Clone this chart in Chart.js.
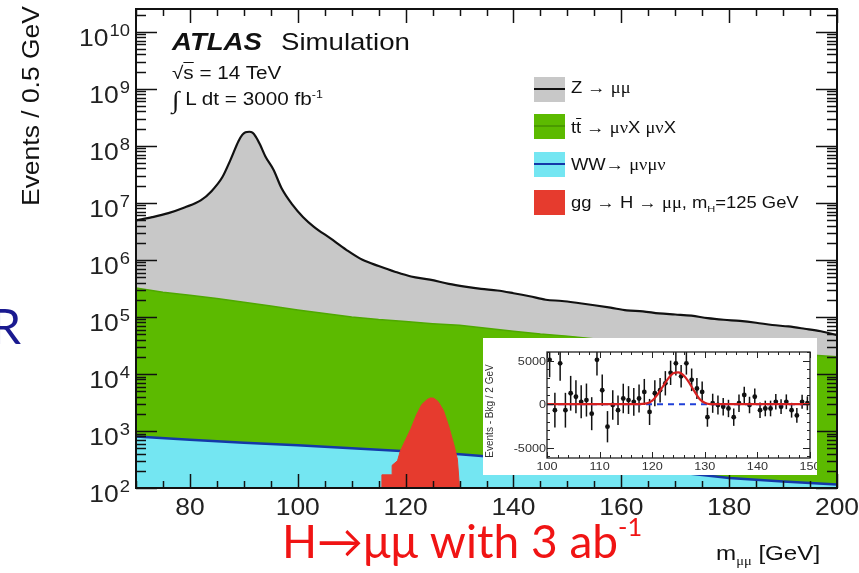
<!DOCTYPE html>
<html>
<head>
<meta charset="utf-8">
<script src="https://cdn.jsdelivr.net/npm/chart.js@4.4.1/dist/chart.umd.min.js"></script>
<style>
  body { margin: 0; background: #fff; width: 859px; height: 573px; overflow: hidden; position: relative;
         font-family: "Liberation Sans", Arial, sans-serif; color: #111; }
  #main { position: absolute; left: 0; top: 0; }
  #insetBox { position: absolute; left: 483px; top: 338px; width: 334px; height: 137px; background: #fff; }
  .t { position: absolute; white-space: nowrap; line-height: 1; transform-origin: 0 0; transform: scaleX(1.15); }
  .gr { font-family: "Liberation Serif", "DejaVu Serif", serif; }
  .sw { position: absolute; left: 534px; width: 31px; height: 25px; }
  .sw i { position: absolute; left: 0; right: 0; top: 11px; height: 2px; }
  sup, sub { font-size: 60%; line-height: 0; }
  .cap { position: absolute; white-space: nowrap; line-height: 1; font-family: Lato, "Open Sans", sans-serif; }
</style>
</head>
<body>
<canvas id="main" width="859" height="573"></canvas>
<div id="insetBox"><canvas id="inset" width="334" height="137"></canvas></div>

<!-- axis titles -->
<div class="t" style="left:20px; top:206px; font-size:23px; transform: rotate(-90deg) scaleX(1.15);">Events / 0.5 GeV</div>
<div class="t" style="left:716px; top:542px; font-size:21px;">m<sub class="gr">μμ</sub> [GeV]</div>

<!-- plot labels -->
<div class="t" style="left:172px; top:30px; font-size:24px; font-weight:bold; font-style:italic;">ATLAS</div>
<div class="t" style="left:281px; top:30px; font-size:24px;">Simulation</div>
<div class="t" style="left:172px; top:64px; font-size:18px;">√<span style="text-decoration:overline">s</span> = 14 TeV</div>
<div class="t" style="left:172px; top:88px; font-size:18px;"><span class="gr" style="font-size:24px; vertical-align:-3px;">∫</span> L dt = 3000 fb<sup>-1</sup></div>

<!-- legend -->
<div class="sw" style="top:77px; background:#c8c8c8;"><i style="background:#111;"></i></div>
<div class="sw" style="top:114px; background:#5cba00;"><i style="background:#4a9a00;"></i></div>
<div class="sw" style="top:152px; background:#74e6f2;"><i style="background:#1438a8;"></i></div>
<div class="sw" style="top:190px; background:#e63b2e;"></div>
<div class="t" style="left:571px; top:80px; font-size:16px;">Z → <span class="gr">μμ</span></div>
<div class="t" style="left:571px; top:120px; font-size:16px;">t<span style="text-decoration:overline">t</span> → <span class="gr">μν</span>X <span class="gr">μν</span>X</div>
<div class="t" style="left:571px; top:157px; font-size:16px;">WW→ <span class="gr">μνμν</span></div>
<div class="t" style="left:571px; top:195px; font-size:16px;">gg → H → <span class="gr">μμ</span>, m<sub>H</sub>=125 GeV</div>

<!-- slide text -->
<div class="cap" style="left:-9px; top:302px; font-size:48px; color:#1a1a90;">R</div>
<div class="cap" style="left:282px; top:518px; font-size:46px; color:#f01414;">H→μμ with 3 ab<sup style="font-size:55%; vertical-align:22px;">-1</sup></div>

<script>
// Z -> mumu (top of stack, events / 0.5 GeV)
const zMass = [70, 73, 76, 79, 82, 84, 86, 87.5, 89, 89.7, 90.3, 91, 91.6, 92.2, 93, 94, 95.5, 97, 99, 101, 103,
  106, 109, 112, 115, 118, 121, 124.5, 128, 131, 134, 137, 140, 143, 146, 149, 152, 155, 158, 161, 164, 167,
  170, 173, 176, 179, 182, 185, 188, 191, 194, 197, 200];
const zEvents = [4.9e6, 5.6e6, 6.6e6, 8.3e6, 1.1e7, 1.6e7, 2.8e7, 5.6e7, 1.2e8, 1.55e8, 1.72e8, 1.76e8, 1.7e8,
  1.45e8, 1.05e8, 6.5e7, 3.8e7, 1.8e7, 9.3e6, 5.6e6, 3.8e6, 2.4e6, 1.5e6, 1.0e6, 7.8e5, 6.2e5, 5.1e5, 4.5e5,
  3.8e5, 3.4e5, 3.1e5, 2.9e5, 2.6e5, 2.3e5, 2.0e5, 1.9e5, 1.75e5, 1.6e5, 1.45e5, 1.3e5, 1.25e5, 1.15e5, 1.1e5,
  1.05e5, 9.5e4, 8.9e4, 8.5e4, 7.9e4, 7.2e4, 6.8e4, 6.2e4, 5.6e4, 4.8e4];

// ttbar -> mu nu X mu nu X
const ttMass = [70, 75, 80, 85, 90, 95, 100, 105, 110, 115, 120, 125, 130, 135, 140, 145, 150, 160, 170, 180, 190, 200];
const ttEvents = [3.2e5, 2.7e5, 2.4e5, 2.1e5, 1.8e5, 1.55e5, 1.32e5, 1.15e5, 1.0e5, 9.0e4, 8.3e4, 7.6e4, 7.1e4,
  6.3e4, 5.6e4, 5.0e4, 4.6e4, 3.7e4, 3.1e4, 2.6e4, 2.3e4, 2.0e4];

// WW -> mu nu mu nu
const wwMass = [70, 80, 90, 100, 110, 120, 130, 140, 150, 160, 170, 180, 190, 200];
const wwEvents = [800, 700, 620, 560, 500, 440, 390, 330, 280, 230, 190, 150, 130, 115];

// gg -> H -> mumu, mH = 125 GeV
const higgsMass = [115.6, 115.6, 117.5, 117.5, 118.5, 119, 120, 121, 122, 123, 124, 124.6, 125.2, 126, 127, 128, 129, 129.6, 130];
const higgsEvents = [100, 170, 170, 250, 300, 440, 700, 1100, 1900, 2900, 3550, 3800, 3750, 3300, 2300, 1200, 550, 320, 100];

// inset: events minus background, 1 GeV points
const insetMass = [100.5, 101.5, 102.5, 103.5, 104.5, 105.5, 106.5, 107.5, 108.5, 109.5, 110.5, 111.5, 112.5,
  113.5, 114.5, 115.5, 116.5, 117.5, 118.5, 119.5, 120.5, 121.5, 122.5, 123.5, 124.5, 125.5, 126.5, 127.5,
  128.5, 129.5, 130.5, 131.5, 132.5, 133.5, 134.5, 135.5, 136.5, 137.5, 138.5, 139.5, 140.5, 141.5, 142.5,
  143.5, 144.5, 145.5, 146.5, 147.5, 148.5, 149.5];
const insetExcess = [5100, -700, 4700, -700, 1250, 850, 270, 470, -1100, 5100, 1600, -2600, -100, -700, 650,
  470, 270, 650, 1400, -900, 1250, 1600, 2400, 3600, 4700, 3200, 4700, 2800, 1800, 1400, -1500, 100, -100,
  -300, -500, -1500, 100, 1050, -100, 850, -700, -500, -500, 270, -300, 270, -700, -1300, 270, 100];
const insetError = [2000, 2000, 2000, 2000, 2000, 1900, 1900, 1900, 1900, 1800, 1800, 1800, 1700, 1700, 1700,
  1600, 1600, 1600, 1500, 1500, 1500, 1400, 1400, 1400, 1400, 1300, 1300, 1300, 1200, 1200, 1100, 1100, 1100,
  1000, 1000, 1000, 1000, 950, 950, 950, 900, 900, 900, 900, 850, 850, 850, 850, 800, 800];

// signal + background fit
const fitMass = [100, 117, 119, 120, 121, 122, 123, 124, 125, 126, 127, 128, 129, 130, 131, 150];
const fitExcess = [0, 0, 80, 400, 1100, 2000, 2900, 3550, 3650, 3300, 2500, 1500, 600, 150, 0, 0];
const bkgMass = [100, 150];
const bkgExcess = [0, 0];

const pts = (xs, ys) => xs.map((x, i) => ({ x: x, y: ys[i] }));

const SX = 1.15;
const FONT = '"Liberation Sans", Arial, sans-serif';

function stretchText(ctx, str, x, y, align) {
  ctx.save();
  ctx.translate(x, y);
  ctx.scale(SX, 1);
  ctx.textAlign = align;
  ctx.fillText(str, 0, 0);
  ctx.restore();
}

function seg(ctx, x1, y1, x2, y2) {
  ctx.beginPath();
  ctx.moveTo(x1, y1);
  ctx.lineTo(x2, y2);
  ctx.stroke();
}

/********** main frame, ticks and labels **********/
const mainAxes = {
  id: 'mainAxes',
  afterDatasetsDraw(chart) {
    const { ctx, chartArea: a, scales: { x, y } } = chart;
    ctx.save();
    ctx.strokeStyle = '#111';
    ctx.lineWidth = 1.5;

    for (let k = 2; k <= 10; k++) {
      for (let m = 1; m <= 9; m++) {
        const v = m * Math.pow(10, k);
        if (v > y.max) break;
        const py = Math.round(y.getPixelForValue(v)) + 0.5;
        const len = m === 1 ? 21 : 10;
        seg(ctx, a.left, py, a.left + len, py);
        seg(ctx, a.right, py, a.right - len, py);
      }
    }
    for (let g = 70; g <= 200; g += 5) {
      const px = Math.round(x.getPixelForValue(g)) + 0.5;
      const len = g % 20 === 0 ? 14 : 7;
      seg(ctx, px, a.bottom, px, a.bottom - len);
      seg(ctx, px, a.top, px, a.top + len);
    }
    ctx.lineWidth = 2;
    ctx.strokeRect(a.left, a.top, a.right - a.left, a.bottom - a.top);

    ctx.fillStyle = '#222';
    ctx.textBaseline = 'alphabetic';
    for (let k = 2; k <= 10; k++) {
      const py = y.getPixelForValue(Math.pow(10, k));
      ctx.font = '16px ' + FONT;
      const we = ctx.measureText(String(k)).width * SX;
      stretchText(ctx, String(k), 130 - we, py + 4, 'left');
      ctx.font = '23px ' + FONT;
      stretchText(ctx, '10', 129 - we, py + 14, 'right');
    }
    ctx.font = '23px ' + FONT;
    for (let g = 80; g <= 200; g += 20) {
      stretchText(ctx, String(g), x.getPixelForValue(g), 515, 'center');
    }
    ctx.restore();
  }
};

new Chart(document.getElementById('main'), {
  type: 'line',
  data: {
    datasets: [
      { data: pts(higgsMass, higgsEvents), order: 0, fill: 'start', backgroundColor: '#e63b2e',
        borderColor: '#e63b2e', borderWidth: 1, pointRadius: 0 },
      { data: pts(wwMass, wwEvents), order: 1, fill: 'start', backgroundColor: '#74e6f2',
        borderColor: '#1438a8', borderWidth: 2.5, pointRadius: 0 },
      { data: pts(ttMass, ttEvents), order: 2, fill: 'start', backgroundColor: '#5cba00',
        borderColor: '#4fa800', borderWidth: 1.5, pointRadius: 0 },
      { data: pts(zMass, zEvents), order: 3, fill: 'start', backgroundColor: '#c8c8c8',
        borderColor: '#111', borderWidth: 2.2, pointRadius: 0, cubicInterpolationMode: 'monotone' }
    ]
  },
  options: {
    responsive: false,
    animation: false,
    devicePixelRatio: 1,
    layout: { padding: { left: 136, top: 9, right: 22, bottom: 85 } },
    plugins: { legend: { display: false }, tooltip: { enabled: false } },
    scales: {
      x: { type: 'linear', min: 70, max: 200, display: false },
      y: { type: 'logarithmic', min: 100, max: 2.5e10, display: false }
    }
  },
  plugins: [mainAxes]
});

/********** inset: excess over background **********/
const insetAxes = {
  id: 'insetAxes',
  beforeDatasetsDraw(chart) {
    const { ctx, chartArea: a, scales: { x, y } } = chart;
    ctx.save();
    ctx.beginPath();
    ctx.rect(a.left, a.top, a.right - a.left, a.bottom - a.top);
    ctx.clip();
    ctx.strokeStyle = '#111';
    ctx.lineWidth = 1.5;
    insetMass.forEach((m, i) => {
      const px = x.getPixelForValue(m);
      seg(ctx, px, y.getPixelForValue(insetExcess[i] - insetError[i]),
        px, y.getPixelForValue(insetExcess[i] + insetError[i]));
    });
    ctx.restore();
  },
  afterDatasetsDraw(chart) {
    const { ctx, chartArea: a, scales: { x, y } } = chart;
    ctx.save();
    ctx.strokeStyle = '#222';
    ctx.lineWidth = 1;
    for (let g = 100; g <= 150; g += 2) {
      const px = Math.round(x.getPixelForValue(g)) + 0.5;
      const len = g % 10 === 0 ? 6 : 3;
      seg(ctx, px, a.bottom, px, a.bottom - len);
      seg(ctx, px, a.top, px, a.top + len);
    }
    for (let v = -6000; v <= 6000; v += 1000) {
      const py = Math.round(y.getPixelForValue(v)) + 0.5;
      const len = v % 5000 === 0 ? 7 : 3;
      seg(ctx, a.left, py, a.left + len, py);
      seg(ctx, a.right, py, a.right - len, py);
    }
    ctx.lineWidth = 1.3;
    ctx.strokeRect(a.left, a.top, a.right - a.left, a.bottom - a.top);

    ctx.fillStyle = '#333';
    ctx.font = '11px ' + FONT;
    ctx.textBaseline = 'alphabetic';
    for (let g = 100; g <= 150; g += 10) {
      stretchText(ctx, String(g), x.getPixelForValue(g), a.bottom + 12, 'center');
    }
    ctx.font = '11px ' + FONT;
    [5000, 0, -5000].forEach(v => {
      stretchText(ctx, String(v), a.left - 1, y.getPixelForValue(v) + 4, 'right');
    });
    ctx.font = '10px ' + FONT;
    ctx.save();
    ctx.translate(10, (a.top + a.bottom) / 2 + 6);
    ctx.rotate(-Math.PI / 2);
    ctx.textAlign = 'center';
    ctx.fillText('Events - Bkg / 2 GeV', 0, 0);
    ctx.restore();
    ctx.restore();
  }
};

new Chart(document.getElementById('inset'), {
  type: 'scatter',
  data: {
    datasets: [
      { data: pts(fitMass, fitExcess), order: 0, showLine: true, borderColor: '#d62020', borderWidth: 2.2,
        pointRadius: 0, cubicInterpolationMode: 'monotone' },
      { data: pts(bkgMass, bkgExcess), order: 1, showLine: true, borderColor: '#2040d8', borderWidth: 2,
        borderDash: [6, 5], pointRadius: 0 },
      { data: pts(insetMass, insetExcess), order: 2, pointRadius: 2.4, pointBackgroundColor: '#111',
        pointBorderColor: '#111', pointBorderWidth: 0 }
    ]
  },
  options: {
    responsive: false,
    animation: false,
    devicePixelRatio: 1,
    layout: { padding: { left: 64, top: 14, right: 7, bottom: 17 } },
    plugins: { legend: { display: false }, tooltip: { enabled: false } },
    scales: {
      x: { type: 'linear', min: 100, max: 150, display: false },
      y: { type: 'linear', min: -6200, max: 6000, display: false }
    }
  },
  plugins: [insetAxes]
});
</script>
</body>
</html>
